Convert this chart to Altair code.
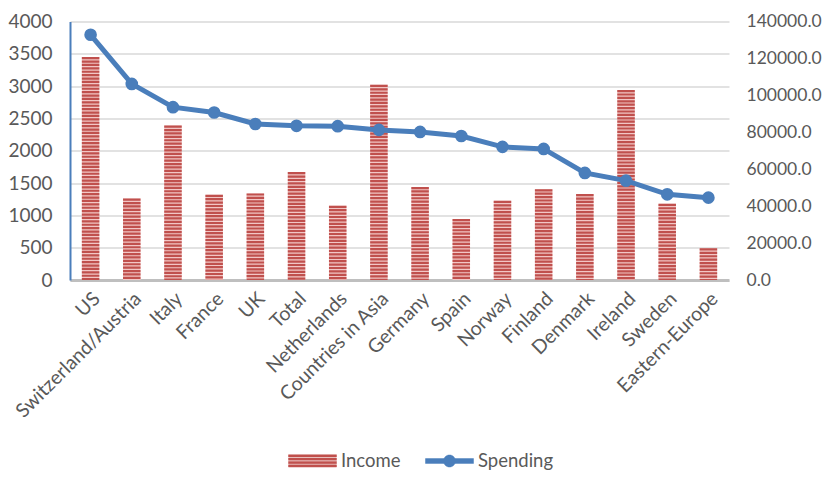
import altair as alt
import pandas as pd

categories = ["US", "Switzerland/Austria", "Italy", "France", "UK", "Total", "Netherlands",
              "Countries in Asia", "Germany", "Spain", "Norway", "Finland", "Denmark",
              "Ireland", "Sweden", "Eastern-Europe"]
income = [3450, 1260, 2390, 1320, 1340, 1670, 1150, 3020, 1440, 945, 1225, 1405, 1330, 2940, 1180, 490]
spending = [132800, 106200, 93600, 90700, 84500, 83500, 83300, 81300, 80200, 78000, 72100,
            71000, 58000, 53800, 46400, 44600]
left_ticks = [0, 500, 1000, 1500, 2000, 2500, 3000, 3500, 4000]
right_ticks = [0, 20000, 40000, 60000, 80000, 100000, 120000, 140000]

df = pd.DataFrame({"Country": categories, "Income": income, "Spending": spending})

RED = "#c0504d"
PALE = "#f2c6c5"
BLUE = "#4a7ebb"
GRAY = "#595959"
FONT = "Lato"
FS = 19.5
LFS = 18.5

income_path = ("M-1,-0.26H1V-0.17H-1Z M-1,-0.12H1V-0.03H-1Z "
               "M-1,0.02H1V0.11H-1Z M-1,0.16H1V0.25H-1Z")
spend_path = ("M-1,-0.1H1V0.1H-1Z M0.25,0A0.25,0.25 0 1,1 -0.25,0"
              "A0.25,0.25 0 1,1 0.25,0Z")

legend_income = alt.Legend(
    title=None, orient="none", legendX=218, legendY=415,
    symbolSize=2304, symbolType=income_path, symbolFillColor=RED,
    symbolStrokeColor=RED, symbolStrokeWidth=0.5,
    labelFontSize=LFS, labelColor=GRAY, labelFont=FONT, labelOffset=4, padding=0)
legend_spend = alt.Legend(
    title=None, orient="none", legendX=355, legendY=415,
    symbolSize=2304, symbolType=spend_path, symbolFillColor=BLUE,
    symbolStrokeColor=BLUE, symbolStrokeWidth=0.5,
    labelFontSize=LFS, labelColor=GRAY, labelFont=FONT, labelOffset=4, padding=0)

stroke_income = alt.Stroke("Series:N", scale=alt.Scale(domain=["Income"], range=[RED]),
                           legend=legend_income)
color_spend = alt.Color("Series:N", scale=alt.Scale(domain=["Spending"], range=[BLUE]),
                        legend=legend_spend)

x = alt.X("Country:N", sort=categories,
          scale=alt.Scale(paddingInner=0.5, paddingOuter=0.25),
          axis=alt.Axis(title=None, labelAngle=-45, labelFontSize=FS, labelColor=GRAY,
                        labelFont=FONT, ticks=False, domainColor="#bfbfbf", domainWidth=3,
                        labelPadding=9, grid=False, labelOverlap=False))

left_axis = alt.Axis(title=None, values=left_ticks, format="d", ticks=False,
                     domainColor=BLUE, domainWidth=2, labelFontSize=19,
                     labelColor=GRAY, labelFont=FONT, labelPadding=18,
                     labelOverlap=False, grid=True, gridColor="#d9d9d9", gridWidth=1.5)
right_axis = alt.Axis(title=None, orient="right", values=right_ticks, format=".1f",
                      ticks=False, domain=False, labelFontSize=17.5, labelColor=GRAY,
                      labelFont=FONT, labelPadding=17, labelOverlap=False, grid=False)
left_scale = alt.Scale(domain=[0, 4000], nice=False)
right_scale = alt.Scale(domain=[0, 140000], nice=False)

y_left = alt.Y("Income:Q", scale=left_scale, axis=left_axis)
y_right = alt.Y("Spending:Q", scale=right_scale, axis=right_axis)

base = alt.Chart(df)

bars_bg = base.mark_bar(size=17.5, color=PALE).encode(x=x, y=y_left)
stripes = base.transform_calculate(Series="'Income'").mark_rule(
    strokeWidth=17.5, strokeDash=[2.2, 1.2], strokeCap="butt").encode(
    x=x, y=y_left, y2=alt.datum(0), stroke=stroke_income)

line = base.transform_calculate(Series="'Spending'").mark_line(strokeWidth=5).encode(
    x=x, y=y_right, color=color_spend)
points = base.transform_calculate(Series="'Spending'").mark_circle(size=160, opacity=1).encode(
    x=x, y=y_right, color=color_spend)

chart = alt.layer(
    alt.layer(bars_bg, stripes),
    alt.layer(line, points),
).resolve_scale(y="independent").properties(
    width=659, height=258.5, autosize="none",
    padding={"left": 62, "top": 13.5, "right": 95, "bottom": 193},
).configure_view(stroke=None)

chart.save("out.html", embed_options={"renderer": "svg", "actions": False})
